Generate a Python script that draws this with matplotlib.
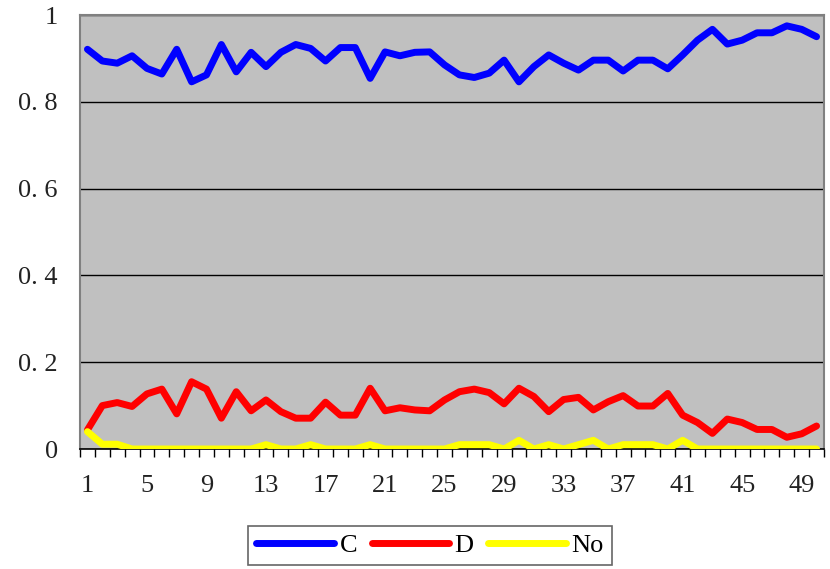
import matplotlib

matplotlib.use("Agg")
import matplotlib.pyplot as plt  # noqa: E402
from matplotlib.ticker import FixedLocator, NullFormatter  # noqa: E402

# share of each state per round
rounds = list(range(1, 51))
c_share = [
    0.921, 0.894, 0.889, 0.906, 0.877, 0.864, 0.921, 0.846, 0.862, 0.932,
    0.869, 0.914, 0.881, 0.914, 0.932, 0.923, 0.894, 0.925, 0.925, 0.854,
    0.915, 0.906, 0.914, 0.915, 0.885, 0.862, 0.856, 0.866, 0.896, 0.846,
    0.881, 0.908, 0.889, 0.873, 0.896, 0.896, 0.871, 0.896, 0.896, 0.876,
    0.908, 0.942, 0.967, 0.933, 0.942, 0.959, 0.959, 0.975, 0.967, 0.950,
]
d_share = [
    0.044, 0.100, 0.107, 0.098, 0.127, 0.138, 0.081, 0.155, 0.138, 0.071,
    0.132, 0.088, 0.113, 0.086, 0.071, 0.071, 0.108, 0.078, 0.078, 0.140,
    0.088, 0.095, 0.090, 0.088, 0.113, 0.132, 0.138, 0.130, 0.104, 0.140,
    0.121, 0.086, 0.114, 0.119, 0.090, 0.109, 0.123, 0.099, 0.099, 0.128,
    0.078, 0.061, 0.036, 0.069, 0.061, 0.045, 0.045, 0.027, 0.035, 0.053,
]
no_share = [
    0.040, 0.011, 0.011, 0.0, 0.0, 0.0, 0.0, 0.0, 0.0, 0.0,
    0.0, 0.0, 0.01, 0.0, 0.0, 0.01, 0.0, 0.0, 0.0, 0.01,
    0.0, 0.0, 0.0, 0.0, 0.0, 0.01, 0.01, 0.01, 0.0, 0.02,
    0.0, 0.01, 0.0, 0.01, 0.02, 0.0, 0.01, 0.01, 0.01, 0.0,
    0.02, 0.0, 0.0, 0.0, 0.0, 0.0, 0.0, 0.0, 0.0, 0.0,
]
series_names = ["C", "D", "No"]
y_ticks = [0, 0.2, 0.4, 0.6, 0.8, 1]
y_tick_labels = ["0", "0. 2", "0. 4", "0. 6", "0. 8", "1"]
x_tick_rounds = list(range(1, 51, 4))

plt.rcParams["font.family"] = ["Liberation Serif", "DejaVu Serif"]

fig = plt.figure(figsize=(8.3, 5.69), dpi=100)
ax = fig.add_axes([80 / 830, 120 / 569, 744 / 830, 434 / 569])
ax.set_facecolor("#c0c0c0")

colors = ["#0000ff", "#ff0000", "#ffff00"]
for vals, name, col in zip([c_share, d_share, no_share], series_names, colors):
    ax.plot(rounds, vals, color=col, lw=5, label=name,
            solid_joinstyle="round", solid_capstyle="round", zorder=3)

ax.set_xlim(0.5, 50.5)
ax.set_ylim(0, 1)

# horizontal grid
ax.set_yticks(y_ticks)
ax.set_yticklabels(y_tick_labels)
ax.yaxis.grid(True, color="black", lw=1.0)
ax.set_axisbelow(True)
ax.tick_params(axis="y", length=0, pad=16, labelsize=19, labelcolor="#222222")

# category boundary ticks below the axis, labels every fourth round
ax.xaxis.set_major_locator(FixedLocator(x_tick_rounds))
ax.tick_params(axis="x", which="major", length=0, pad=19, labelsize=19,
               labelcolor="#222222")
ax.xaxis.set_minor_locator(FixedLocator([r + 0.5 for r in [0] + rounds]))
ax.xaxis.set_minor_formatter(NullFormatter())
ax.tick_params(axis="x", which="minor", length=6, width=1, color="black",
               direction="out")

for side in ["top", "right", "left"]:
    ax.spines[side].set_color("#808080")
    ax.spines[side].set_linewidth(1.5)
ax.spines["bottom"].set_color("black")
ax.spines["bottom"].set_linewidth(1.2)

leg = fig.legend(loc="center", bbox_to_anchor=(430 / 830, 1 - 545.5 / 569),
                 ncol=3, frameon=True, fancybox=False, edgecolor="#404040",
                 handlelength=2.95, handletextpad=0.2, columnspacing=0.55,
                 fontsize=19, borderpad=0.3, borderaxespad=0)
leg.get_frame().set_linewidth(1.2)

fig.savefig("out.png", dpi=100)
